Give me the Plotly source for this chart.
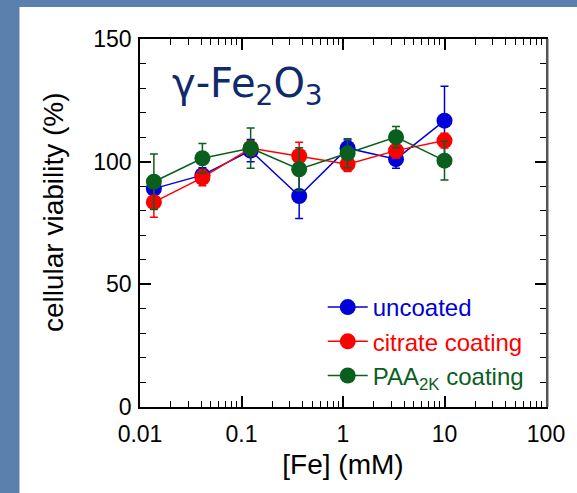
import plotly.graph_objects as go

fe_mM = [0.0137, 0.0412, 0.123, 0.37, 1.11, 3.33, 10]

uncoated = [89.0, 94.5, 104.5, 86.0, 105.5, 101.0, 116.7]
uncoated_err = [3.0, 3.0, 4.5, 9.2, 3.3, 3.7, 14.0]

citrate = [83.5, 93.5, 105.5, 102.3, 99.0, 104.5, 108.6]
citrate_err = [6.2, 3.3, 3.0, 5.6, 3.0, 3.0, 3.0]

paa = [91.8, 101.4, 105.5, 96.9, 103.4, 110.0, 100.4]
paa_err = [11.3, 6.0, 8.2, 8.8, 5.9, 4.3, 7.9]

series = [
    ("uncoated", uncoated, uncoated_err, "#0000d8"),
    ("citrate coating", citrate, citrate_err, "#ff0000"),
    ("PAA<sub>2K</sub> coating", paa, paa_err, "#0a5e1e"),
]

x_tickvals = [0.01, 0.1, 1, 10, 100]
x_ticktext = ["0.01", "0.1", "1", "10", "100"]
y_tickvals = [0, 50, 100, 150]

fig = go.Figure()
for name, vals, errs, col in series:
    fig.add_trace(go.Scatter(
        x=fe_mM, y=vals, mode="lines+markers",
        name=f'<span style="color:{col}">{name}</span>',
        line=dict(color=col, width=1.5),
        marker=dict(color=col, size=16, line=dict(width=0)),
        error_y=dict(type="data", array=errs, visible=True, color=col,
                     thickness=1.5, width=4),
    ))

W, H = 577, 493
L, R, T, B = 140, 26, 39, 86
pw, ph = W - L - R, H - T - B

fig.update_layout(
    width=W, height=H,
    margin=dict(l=L, r=R, t=T, b=B),
    paper_bgcolor="#5b80ad",
    plot_bgcolor="white",
    font=dict(family="Liberation Sans, Arial, sans-serif", color="black", size=22),
    showlegend=True,
    legend=dict(x=(325 - L) / pw, y=(407 - 285) / ph, xanchor="left", yanchor="top",
                bgcolor="rgba(0,0,0,0)", font=dict(size=24),
                itemwidth=40, tracegroupgap=0),
    shapes=[
        dict(type="rect", xref="paper", yref="paper", layer="below",
             x0=(18 - L) / pw, x1=1.2, y0=-0.4, y1=(407 - 7) / ph,
             fillcolor="white", line=dict(width=0)),
        dict(type="line", xref="paper", yref="paper", layer="above",
             x0=1.003, x1=1.003, y0=0, y1=1, line=dict(color="#555555", width=2.5)),
    ],
    annotations=[
        dict(text="γ-Fe<sub>2</sub>O<sub>3</sub>", xref="paper", yref="paper",
             x=(170 - L) / pw, y=(407 - 86) / ph, xanchor="left", yanchor="middle",
             showarrow=False,
             font=dict(family="DejaVu Sans, sans-serif", size=40, color="#102a6c")),
        dict(text="cellular viability (%)", xref="paper", yref="paper",
             x=(52 - L) / pw, y=(407 - 212) / ph, xanchor="center", yanchor="middle",
             textangle=-90, showarrow=False, font=dict(size=28)),
    ],
)

fig.update_xaxes(
    type="log", range=[-2, 2],
    tickvals=x_tickvals, ticktext=x_ticktext,
    ticks="inside", ticklen=11, tickwidth=1.5, tickcolor="black",
    minor=dict(ticks="inside", ticklen=6, tickwidth=1.2, tickcolor="black", dtick="D1", showgrid=False),
    showline=True, linecolor="black", linewidth=1.5, mirror="ticks",
    showgrid=False, zeroline=False,
    tickfont=dict(size=23), ticklabelstandoff=6,
    title=dict(text="[Fe] (mM)", font=dict(size=28), standoff=8),
)
fig.update_yaxes(
    range=[0, 150], tickvals=y_tickvals,
    ticks="inside", ticklen=11, tickwidth=1.5, tickcolor="black",
    minor=dict(ticks="inside", ticklen=6, tickwidth=1.2, tickcolor="black", dtick=10, showgrid=False),
    showline=True, linecolor="black", linewidth=1.5, mirror="ticks",
    showgrid=False, zeroline=False,
    tickfont=dict(size=23), ticklabelstandoff=2,
)

fig.write_html("out.html")
